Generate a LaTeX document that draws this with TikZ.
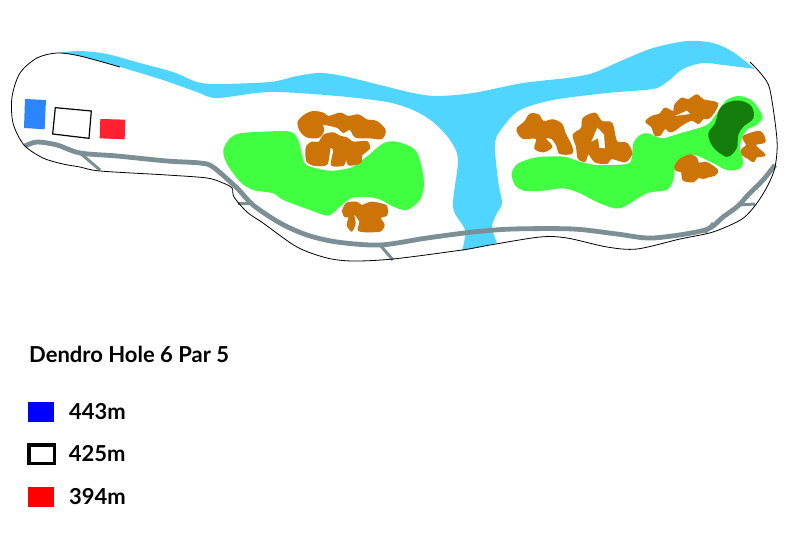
\documentclass[tikz,border=0pt]{standalone}
\usepackage{fontspec}
\setmainfont{Lato}[BoldFont=* Bold]
\usetikzlibrary{positioning}
\definecolor{watercol}{HTML}{4FD5FF}
\definecolor{fairwaycol}{HTML}{40FF40}
\definecolor{greencol}{HTML}{147D0C}
\definecolor{treecol}{HTML}{CC7408}
\definecolor{pathcol}{HTML}{7B8F94}
\definecolor{teeblue}{HTML}{2A85FF}
\definecolor{teered}{HTML}{FF2030}
\tikzset{
    water/.style={fill=watercol},
    fairway/.style={fill=fairwaycol},
    putting/.style={fill=greencol},
    trees/.style={fill=treecol, draw=treecol, line width=1.4pt, line join=round},
    cartpath/.style={draw=pathcol, line width=4.8pt, line join=round},
    sidepath/.style={draw=pathcol, line width=3pt},
    boundary/.style={draw=black, line width=.8pt},
    swatch/.style={minimum width=26pt, minimum height=20pt, inner sep=0pt, outer sep=0pt},
    legendtext/.style={font=\bfseries\fontsize{22}{26}\selectfont, inner sep=0pt, text=black},
    leftpart/.style={shift={(0,30)}, x=.3333pt, y=-.3333pt},
    midpart/.style={shift={(220,60)}, x=.3333pt, y=-.3333pt},
    rightpart/.style={shift={(440,30)}, x=.3333pt, y=-.3333pt},
    treesmid/.style={shift={(290,105)}, x=.3333pt, y=-.3333pt},
    treesright/.style={shift={(510,105)}, x=.3333pt, y=-.3333pt},
    treesfar/.style={shift={(640,90)}, x=.3333pt, y=-.3333pt}
}
\begin{document}
\begin{tikzpicture}[x=1pt, y=-1pt]
    \useasboundingbox (0,0) rectangle (794,551);
    % creek
    \path[water] plot[smooth, tension=.5] coordinates {(57,53) (80,51) (107,54) (140,63) (173,72) (197,82) (217,84) (270,82) (297,76) (320,73) (343,76) (380,85) (413,93) (437,96) (473,93) (523,83) (567,78) (593,73) (623,60) (653,48) (687,41) (713,43) (733,52) (755,69)}
        -- plot[smooth, tension=.5] coordinates {(755,69) (740,67) (723,65) (703,63) (683,69) (667,82) (653,89) (607,93) (553,100) (520,110) (503,127) (495,143) (498,180) (502,203) (497,213) (492,227) (497,243)}
        -- (462,251)
        -- plot[smooth, tension=.5] coordinates {(462,251) (465,230) (453,207) (458,160) (450,140) (433,122) (413,110) (387,102) (337,96) (270,92) (217,98) (197,92) (163,80) (120,67) (80,56) (57,53)}
        -- cycle;
    % fairways
    \begin{scope}[midpart]
        \path[fairway] plot[smooth cycle, tension=.5] coordinates {(10,270) (30,235) (60,220) (130,215) (210,215) (235,240) (250,300) (265,318) (330,332) (395,322) (440,290) (490,250) (530,245) (580,265) (600,300) (612,370) (600,420) (560,450) (520,440) (470,415) (400,412) (360,440) (325,467) (270,450) (190,420) (160,400) (100,390) (60,365) (20,310)};
    \end{scope}
    \begin{scope}[rightpart]
        \path[fairway] plot[smooth cycle, tension=.5] coordinates {(215,430) (235,400) (290,382) (370,380) (420,395) (470,405) (560,402) (575,385) (580,340) (600,315) (625,310) (665,325) (720,310) (800,285) (830,250) (860,210) (900,198) (940,215) (968,260) (950,285) (920,300) (900,345) (910,400) (895,418) (860,420) (820,400) (760,375) (710,400) (700,450) (680,480) (620,490) (540,535) (480,520) (420,490) (370,475) (300,483) (250,482) (225,465)};
    \end{scope}
    % trees
    \begin{scope}[treesmid]
        \path[trees] plot[smooth cycle, tension=.5] coordinates {(25,50) (45,30) (70,20) (100,25) (115,35) (150,25) (175,35) (205,30) (230,45) (260,50) (285,75) (275,100) (240,98) (197,96) (180,72) (160,82) (145,68) (115,60) (98,58) (100,78) (85,97) (50,95) (30,75)};
        \path[trees] plot[smooth cycle, tension=.4] coordinates {(50,125) (65,112) (87,112) (102,90) (130,84) (150,94) (170,99) (190,112) (230,110) (238,130) (215,150) (212,172) (185,180) (175,178) (168,160) (160,180) (125,180) (132,135) (120,128) (110,178) (70,180) (52,170) (48,150)};
        \path[trees] plot[smooth cycle, tension=.4] coordinates {(158,318) (170,295) (200,292) (215,302) (245,292) (288,302) (290,330) (270,338) (282,360) (270,378) (225,380) (205,375) (210,350) (190,322) (195,355) (185,378) (172,360) (178,335) (165,335)};
    \end{scope}
    \begin{scope}[treesright]
        \path[trees] plot[smooth cycle, tension=.5] coordinates {(22,70) (45,50) (60,28) (85,30) (100,50) (130,45) (155,58) (165,85) (185,125) (185,145) (150,145) (140,120) (125,100) (105,100) (125,125) (100,140) (75,130) (80,100) (40,100) (25,85)};
        \path[trees] plot[smooth cycle, tension=.5] coordinates {(190,90) (215,70) (220,40) (255,25) (275,50) (305,55) (320,110) (350,115) (365,145) (345,170) (305,160) (290,175) (255,170) (235,145) (225,168) (205,160) (200,125)};
        \path[fill=white] (262,68) -- (282,88) -- (285,130) -- (268,128) -- (264,100) -- (244,110) -- cycle;
    \end{scope}
    \begin{scope}[treesfar]
        \path[putting] plot[smooth cycle, tension=.6] coordinates {(205,130) (225,100) (240,55) (270,35) (305,33) (335,50) (340,85) (310,110) (295,135) (290,175) (265,200) (240,190) (215,165)};
        \path[trees] plot[smooth cycle, tension=.5] coordinates {(18,95) (35,80) (60,72) (75,55) (100,65) (105,45) (125,25) (145,30) (170,15) (190,30) (232,40) (220,70) (205,85) (190,85) (175,100) (155,90) (125,105) (105,120) (90,125) (75,115) (60,135) (45,135) (35,110)};
        \path[fill=white] (105,78) -- (140,62) -- (150,72) -- cycle;
        \path[trees] plot[smooth cycle, tension=.5] coordinates {(105,230) (120,208) (150,195) (170,205) (175,220) (200,218) (232,240) (225,255) (205,260) (190,265) (175,262) (160,275) (130,270) (125,245) (110,242)};
        \path[trees] plot[smooth cycle, tension=.5] coordinates {(305,180) (320,165) (310,140) (360,125) (375,155) (345,165) (375,195) (350,200) (340,215) (325,205) (308,195)};
    \end{scope}
    % cart paths
    \draw[cartpath] plot[smooth, tension=.5] coordinates {(25,146) (37,142) (57,145) (80,153) (117,156) (167,161) (200,163) (213,167) (237,188) (253,205) (280,223) (307,235) (337,242) (380,245) (427,238) (473,232) (513,229) (573,229) (617,234) (653,238) (705,230) (723,217) (738,206) (748,195) (763,180) (775,165)};
    \draw[sidepath] (80,153) -- (100,170);
    \draw[sidepath] (238,203) -- (250,203);
    \draw[sidepath] (380,245) -- (393,260);
    \draw[sidepath] (713,223) -- (705,233);
    \draw[sidepath] (738,205) -- (755,204);
    % outline of the hole
    \draw[boundary] plot[smooth, tension=.5] coordinates {(750,62) (762,75) (770,90) (777,140) (775,167) (768,185) (757,203) (742,219) (713,232) (680,239) (637,249) (607,247) (567,238) (540,237) (490,245) (462,250) (393,259) (353,261) (327,258) (297,247) (263,223) (247,212) (234,197) (232,188) (223,183) (207,178) (167,175) (100,171) (80,167) (63,164) (43,158) (24,145) (13,123) (12,97) (20,73) (37,58) (57,53) (80,56) (120,67)};
    % tees
    \begin{scope}[leftpart]
        \path[fill=teeblue] (75,207) -- (138,210) -- (134,298) -- (72,294) -- cycle;
        \draw[line width=1.2pt] (166,233) -- (274,243) -- (267,325) -- (158,312) -- cycle;
        \path[fill=teered] (301,267) -- (376,269) -- (374,328) -- (299,325) -- cycle;
    \end{scope}
    % legend
    \node[legendtext, anchor=base west] (title) at (29,362) {Dendro Hole 6 Par 5};
    \node[swatch, fill=blue, anchor=west] (back) at (28,412) {};
    \node[swatch, draw=black, line width=3.5pt, minimum width=25.5pt, minimum height=18.5pt, anchor=west] (middle) at (28.75,454) {};
    \node[swatch, fill=red, anchor=west] (front) at (28,497) {};
    \node[legendtext, right=15pt of back] (backlabel) {443m};
    \node[legendtext, right=14.5pt of middle] (middlelabel) {425m};
    \node[legendtext, right=15pt of front] (frontlabel) {394m};
\end{tikzpicture}
\end{document}
